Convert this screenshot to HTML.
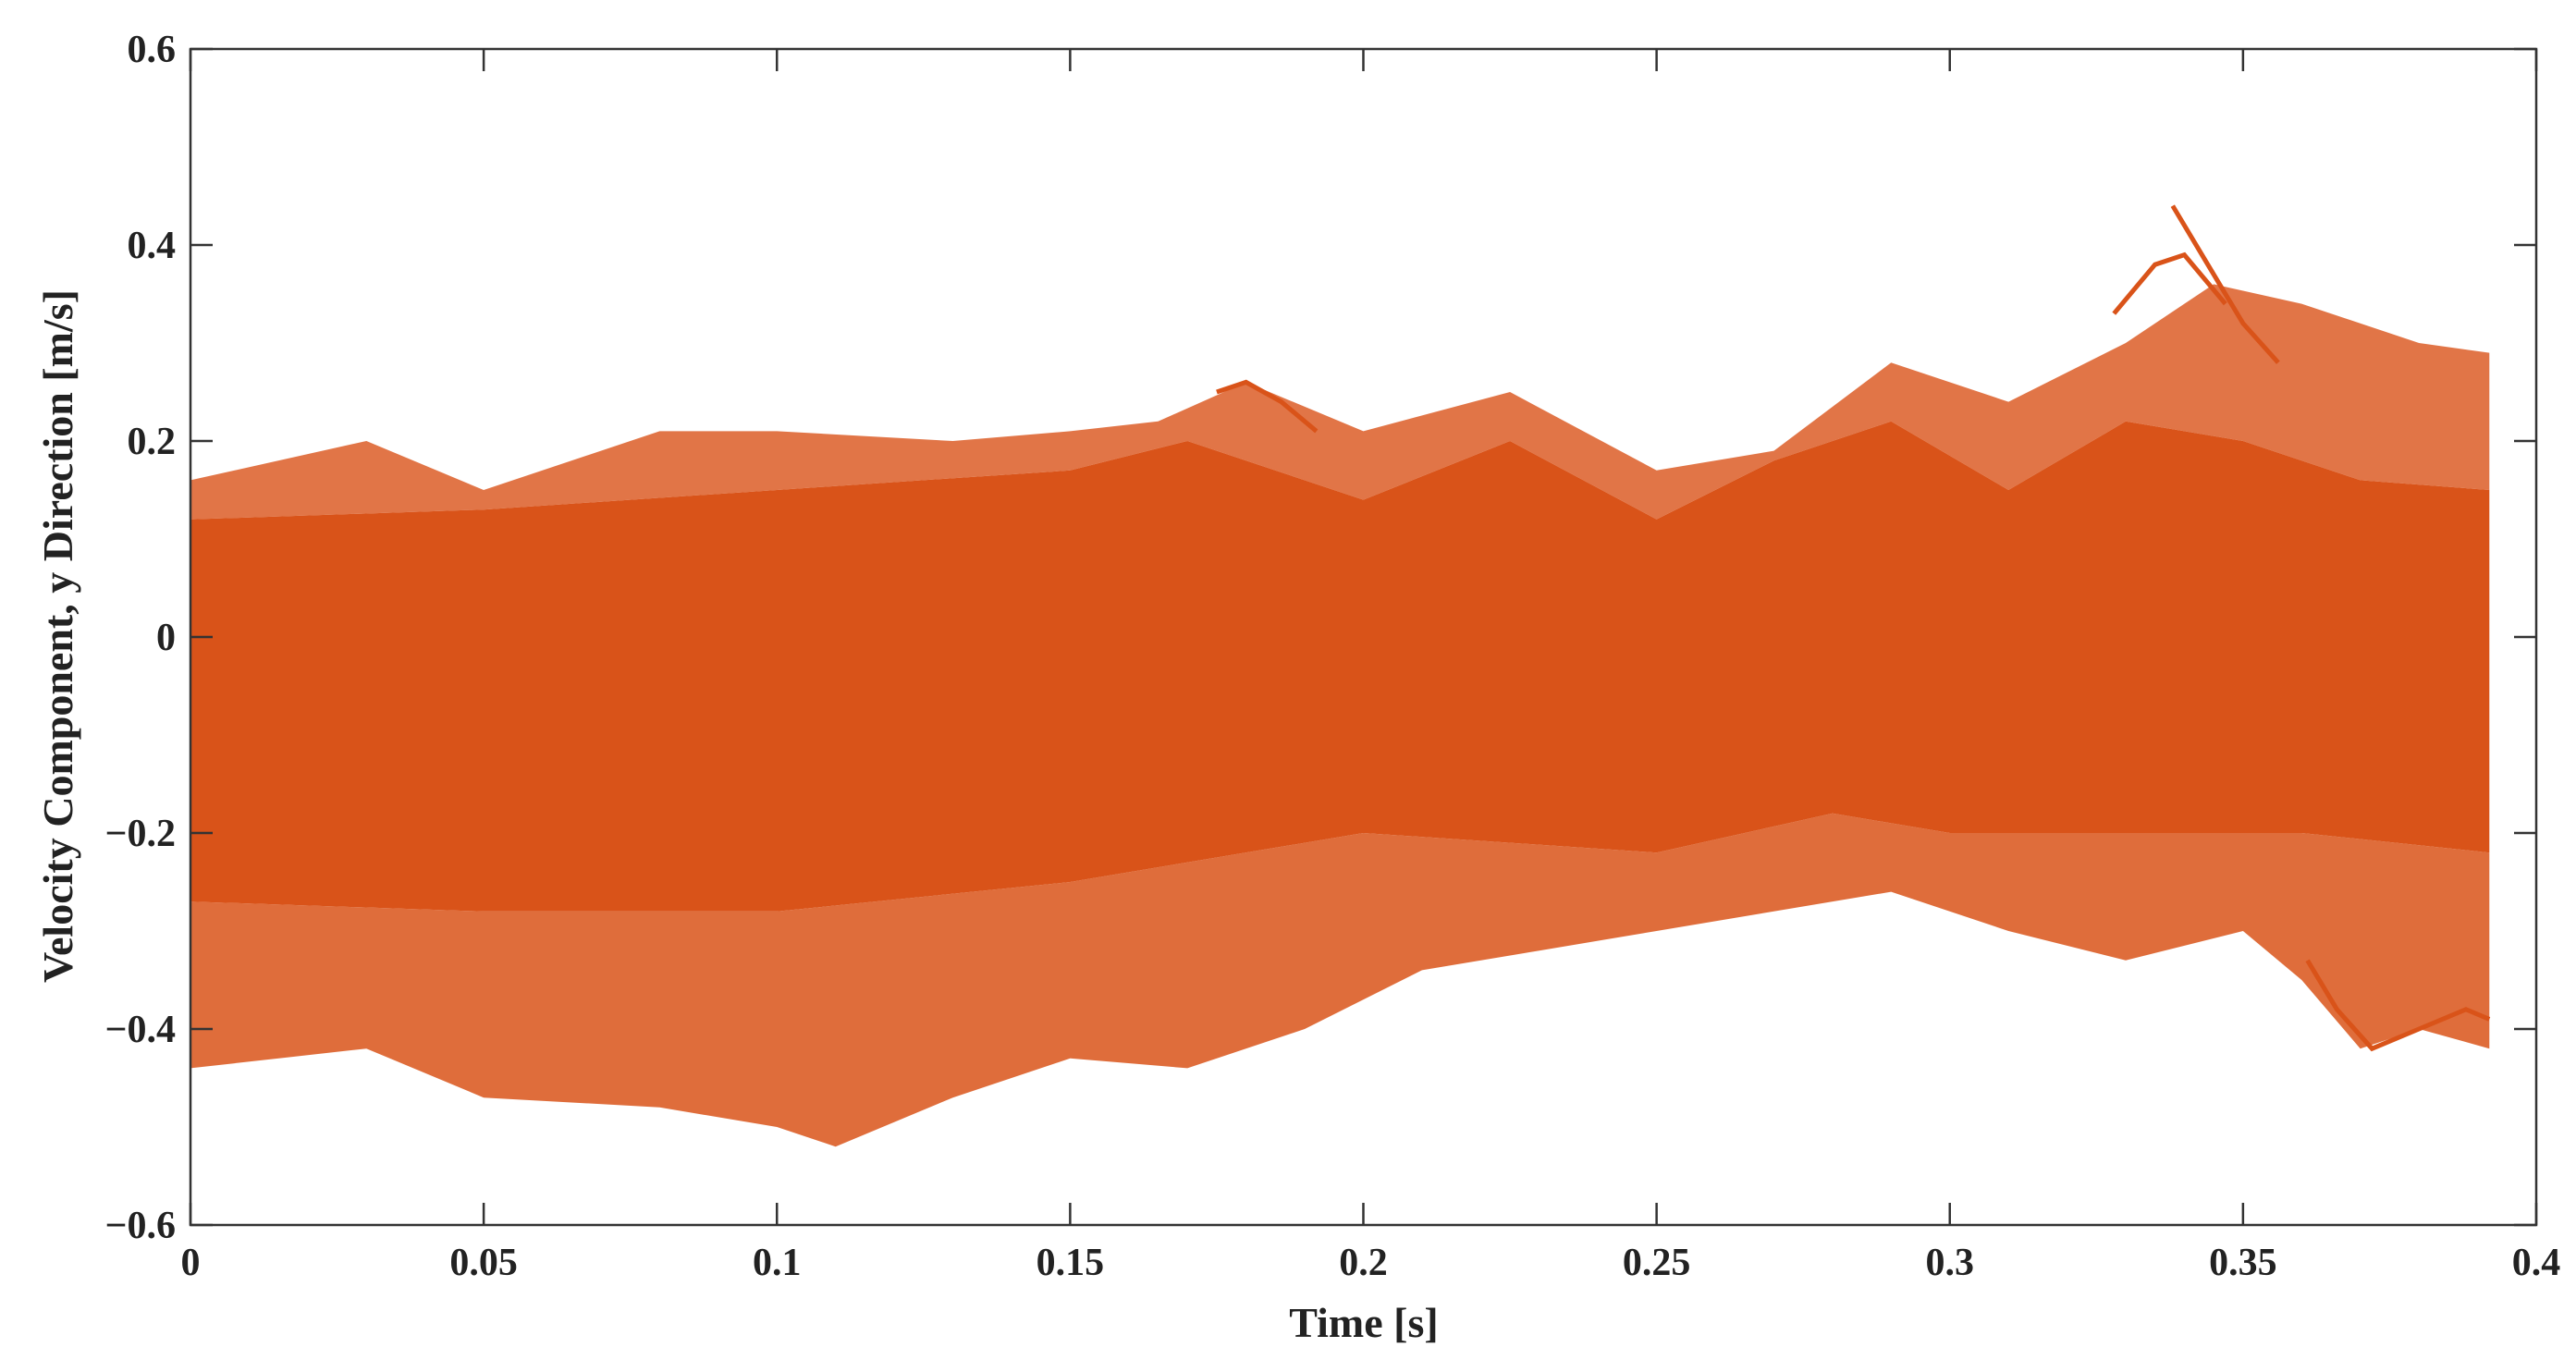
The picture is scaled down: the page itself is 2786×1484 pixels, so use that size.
<!DOCTYPE html>
<html><head><meta charset="utf-8"><style>
html,body{margin:0;padding:0;background:#fff;}
svg{display:block;font-family:"Liberation Serif",serif;font-weight:bold;}
</style></head><body>
<svg id="chart" width="2786" height="1484" viewBox="0 0 2786 1484" xmlns="http://www.w3.org/2000/svg">
<g id="plot"></g>
<g id="axes"></g>
<text x="1475" y="1446" font-size="46" text-anchor="middle" fill="#222">Time [s]</text>
<text transform="translate(78,688) rotate(-90)" font-size="46" text-anchor="middle" fill="#222">Velocity Component, y Direction [m/s]</text>
</svg>
<script>
const xTicks=[0,0.05,0.1,0.15,0.2,0.25,0.3,0.35,0.4];
const xTickLabels=["0","0.05","0.1","0.15","0.2","0.25","0.3","0.35","0.4"];
const yTicks=[0.6,0.4,0.2,0,-0.2,-0.4,-0.6];
const yTickLabels=["0.6","0.4","0.2","0","\u22120.2","\u22120.4","\u22120.6"];
const outerTopT=[0,0.03,0.05,0.08,0.1,0.13,0.15,0.165,0.18,0.2,0.225,0.25,0.27,0.29,0.31,0.33,0.345,0.36,0.38,0.392];
const outerTopV=[0.16,0.2,0.15,0.21,0.21,0.2,0.21,0.22,0.26,0.21,0.25,0.17,0.19,0.28,0.24,0.3,0.36,0.34,0.3,0.29];
const coreTopT=[0,0.05,0.1,0.15,0.17,0.2,0.225,0.25,0.27,0.29,0.31,0.33,0.35,0.37,0.392];
const coreTopV=[0.12,0.13,0.15,0.17,0.2,0.14,0.2,0.12,0.18,0.22,0.15,0.22,0.2,0.16,0.15];
const coreBotT=[0,0.05,0.1,0.15,0.2,0.25,0.28,0.3,0.33,0.36,0.392];
const coreBotV=[-0.27,-0.28,-0.28,-0.25,-0.2,-0.22,-0.18,-0.2,-0.2,-0.2,-0.22];
const outerBotT=[0,0.03,0.05,0.08,0.1,0.11,0.13,0.15,0.17,0.19,0.21,0.23,0.25,0.27,0.29,0.31,0.33,0.35,0.36,0.37,0.38,0.392];
const outerBotV=[-0.44,-0.42,-0.47,-0.48,-0.5,-0.52,-0.47,-0.43,-0.44,-0.4,-0.34,-0.32,-0.3,-0.28,-0.26,-0.3,-0.33,-0.3,-0.35,-0.42,-0.4,-0.42];
const outlier1T=[0.338,0.344,0.35,0.356];
const outlier1V=[0.44,0.38,0.32,0.28];
const outlier2T=[0.328,0.335,0.34,0.347];
const outlier2V=[0.33,0.38,0.39,0.34];
const outlier3T=[0.361,0.366,0.372,0.38,0.388,0.392];
const outlier3V=[-0.33,-0.38,-0.42,-0.4,-0.38,-0.39];
const outlier4T=[0.175,0.18,0.186,0.192];
const outlier4V=[0.25,0.26,0.24,0.21];

const L=206,R=2743,T=53,B=1325;
const xs=t=>L+(t-0)/(0.4)*(R-L);
const ys=v=>T+(0.6-v)/1.2*(B-T);
const NS="http://www.w3.org/2000/svg";
const plot=document.getElementById('plot'),axes=document.getElementById('axes');
const C="#d95319";
function pts(ta,va){return ta.map((t,i)=>xs(t).toFixed(1)+","+ys(va[i]).toFixed(1));}
function poly(ta,va,tb,vb,op){
  const p=document.createElementNS(NS,'polygon');
  p.setAttribute('points',pts(ta,va).concat(pts(tb,vb).reverse()).join(' '));
  p.setAttribute('fill',C);p.setAttribute('fill-opacity',op);
  return p;
}
let p=poly(outerTopT,outerTopV,coreTopT,coreTopV,0.8);


plot.appendChild(p);
p=poly(coreBotT,coreBotV,outerBotT,outerBotV,0.85);


plot.appendChild(p);
p=poly(coreTopT,coreTopV,coreBotT,coreBotV,1);


plot.appendChild(p);
[[outlier1T,outlier1V],[outlier2T,outlier2V],[outlier3T,outlier3V],[outlier4T,outlier4V]].forEach((o,i)=>{
  const l=document.createElementNS(NS,'polyline');
  l.setAttribute('points',pts(o[0],o[1]).join(' '));
  l.setAttribute('fill','none');l.setAttribute('stroke',C);l.setAttribute('stroke-width','5');
  
  
  plot.appendChild(l);
});
const box=document.createElementNS(NS,'rect');
box.setAttribute('x',L);box.setAttribute('y',T);box.setAttribute('width',R-L);box.setAttribute('height',B-T);
box.setAttribute('fill','none');box.setAttribute('stroke','#333');box.setAttribute('stroke-width','2.5');


axes.appendChild(box);
function line(x1,y1,x2,y2){const l=document.createElementNS(NS,'line');l.setAttribute('x1',x1);l.setAttribute('y1',y1);l.setAttribute('x2',x2);l.setAttribute('y2',y2);l.setAttribute('stroke','#333');l.setAttribute('stroke-width','2.5');return l;}
xTicks.forEach((t,i)=>{
  const x=xs(t);
  let l=line(x,B,x,B-24);axes.appendChild(l);
  l=line(x,T,x,T+24);axes.appendChild(l);
  const tx=document.createElementNS(NS,'text');
  tx.setAttribute('x',x);tx.setAttribute('y',1379);tx.setAttribute('font-size','42');tx.setAttribute('text-anchor','middle');tx.setAttribute('fill','#222');
  tx.textContent=xTickLabels[i];
  
  
  axes.appendChild(tx);
});
yTicks.forEach((v,i)=>{
  const y=ys(v);
  let l=line(L,y,L+24,y);axes.appendChild(l);
  l=line(R,y,R-24,y);axes.appendChild(l);
  const tx=document.createElementNS(NS,'text');
  tx.setAttribute('x',190);tx.setAttribute('y',y+14);tx.setAttribute('font-size','42');tx.setAttribute('text-anchor','end');tx.setAttribute('fill','#222');
  tx.textContent=yTickLabels[i];
  
  
  axes.appendChild(tx);
});
</script>
</body></html>
